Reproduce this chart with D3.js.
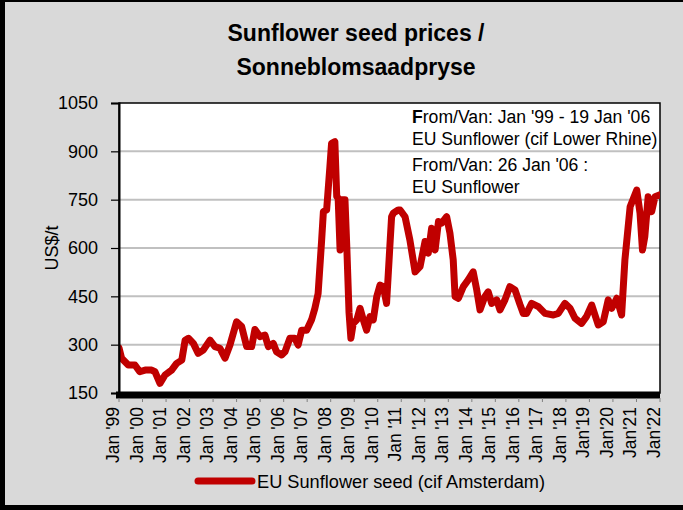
<!DOCTYPE html>
<html lang="en">
<head>
<meta charset="UTF-8">
<title>Sunflower seed prices</title>
<script src="https://d3js.org/d3.v7.min.js"></script>
<style>
  body { margin: 0; background: #d9d9d9; }
  svg { display: block; font-family: "Liberation Sans", Arial, sans-serif; }
</style>
</head>
<body>
<div id="chart"></div>
<script>
// price series, US$/t
const dates = [
  "1999-01-01","1999-02-10","1999-05-25","1999-09-05","1999-11-20",
  "2000-02-10","2000-05-22","2000-07-12","2000-09-28","2000-12-16",
  "2001-03-28","2001-06-14","2001-09-02","2001-10-24","2001-12-14",
  "2002-03-01","2002-05-15","2002-08-01","2002-11-14",
  "2003-01-30","2003-04-16","2003-07-05","2003-09-20",
  "2004-01-01","2004-03-20","2004-06-06","2004-08-22","2004-10-12","2004-12-28",
  "2005-03-16","2005-05-08","2005-07-23","2005-09-12","2005-12-01",
  "2006-01-22","2006-04-08","2006-06-24","2006-08-14","2006-10-08","2006-12-24",
  "2007-03-10","2007-05-01","2007-06-20","2007-08-14","2007-09-10","2007-10-30","2007-12-20",
  "2008-01-15","2008-03-06","2008-04-04","2008-04-26","2008-05-26","2008-06-20",
  "2008-08-10","2008-09-08","2008-10-12","2008-11-10","2008-12-16",
  "2009-02-10","2009-04-01","2009-05-22","2009-07-12","2009-09-02","2009-10-24","2009-12-16",
  "2010-02-06","2010-03-28","2010-05-18","2010-07-08","2010-08-04","2010-08-30","2010-11-14","2010-12-14",
  "2011-03-01","2011-05-15","2011-08-04","2011-10-20",
  "2012-01-05","2012-02-25","2012-04-16","2012-06-10","2012-08-01","2012-09-20","2012-12-06",
  "2013-01-26","2013-03-18","2013-04-16","2013-06-06","2013-08-22","2013-11-06",
  "2014-01-22","2014-03-18","2014-05-08","2014-07-22","2014-09-12","2014-11-06",
  "2015-01-22","2015-03-14","2015-05-30","2015-08-14","2015-11-02",
  "2016-01-18","2016-03-10","2016-05-01","2016-07-18","2016-10-30",
  "2017-02-10","2017-06-20","2017-09-05","2017-12-16",
  "2018-03-06","2018-05-22","2018-09-01","2018-11-16",
  "2019-02-06","2019-05-18","2019-08-04","2019-10-20","2019-12-14",
  "2020-03-01","2020-05-15","2020-07-05","2020-09-24",
  "2021-01-05","2021-02-25","2021-04-04","2021-05-10","2021-07-01","2021-08-25","2021-10-15",
  "2022-01-01"
];
const prices = [
  290, 258, 237, 237, 216,
  221, 221, 216, 180, 206,
  221, 242, 252, 314, 320,
  304, 273, 283, 314,
  294, 289, 258, 299,
  371, 356, 294, 294, 347, 325,
  330, 294, 304, 278, 268,
  278, 320, 320, 299, 345, 345,
  377, 413, 459, 625, 713, 718, 852,
  925, 930, 760, 755, 594, 750,
  750, 600, 400, 320, 366,
  377, 413, 377, 345, 387, 377, 449,
  485, 480, 428, 605, 697, 708, 718, 718,
  697, 625, 526, 542,
  620, 584, 661, 594, 682, 677, 697,
  646, 563, 449, 444, 480, 501,
  526, 470, 408, 449, 464, 428,
  439, 408, 439, 480, 470,
  425, 397, 397, 428, 418,
  397, 392, 397, 428,
  413, 382, 366, 387,
  423, 361, 371, 439, 413,
  444, 392, 563, 728,
  780, 708, 594, 635, 759, 713, 759,
  765
];

const yTicks = [150, 300, 450, 600, 750, 900, 1050];
const xTickYears = d3.range(1999, 2023);
const xTickLabels = [
  "Jan '99","Jan '00","Jan '01","Jan '02","Jan '03","Jan '04","Jan '05","Jan '06",
  "Jan '07","Jan '08","Jan '09","Jan '10","Jan '11","Jan '12","Jan '13","Jan '14",
  "Jan '15","Jan '16","Jan '17","Jan '18","Jan'19","Jan'20","Jan'21","Jan'22"
];
const titleLines = ["Sunflower seed prices /", "Sonneblomsaadpryse"];
const noteLines = [
  "From/Van: Jan '99 - 19 Jan '06",
  "EU Sunflower (cif Lower Rhine)",
  "From/Van: 26 Jan '06 :",
  "EU Sunflower"
];
const seriesName = "EU Sunflower seed (cif Amsterdam)";
const yTitle = "US$/t";

const width = 683, height = 510;
const plot = { left: 119, right: 660, top: 103, bottom: 393 };
const red = "#c00000";

const parse = d3.timeParse("%Y-%m-%d");
const data = dates.map((d, i) => ({ date: parse(d), price: prices[i] }));

const svg = d3.select("#chart").append("svg")
  .attr("width", width)
  .attr("height", height);

svg.append("rect")
  .attr("width", width).attr("height", height)
  .attr("fill", "#d9d9d9");

// outer frame (right edge is cut off in the original)
svg.append("line").attr("x1", 0).attr("x2", width).attr("y1", 1).attr("y2", 1)
  .attr("stroke", "#000").attr("stroke-width", 2);
svg.append("line").attr("x1", 2.5).attr("x2", 2.5).attr("y1", 0).attr("y2", height)
  .attr("stroke", "#000").attr("stroke-width", 5);
svg.append("line").attr("x1", 0).attr("x2", width).attr("y1", 507.5).attr("y2", 507.5)
  .attr("stroke", "#000").attr("stroke-width", 5);

const x = d3.scaleTime()
  .domain([new Date(1999, 0, 1), new Date(2022, 0, 1)])
  .range([plot.left, plot.right]);
const y = d3.scaleLinear()
  .domain([150, 1050])
  .range([plot.bottom, plot.top]);

// plot background
svg.append("rect")
  .attr("x", plot.left).attr("y", plot.top)
  .attr("width", plot.right - plot.left).attr("height", plot.bottom - plot.top)
  .attr("fill", "#fff");

// gridlines
svg.append("g").selectAll("line")
  .data(yTicks.filter(v => v > 150 && v < 1050))
  .join("line")
  .attr("x1", plot.left).attr("x2", plot.right)
  .attr("y1", d => y(d)).attr("y2", d => y(d))
  .attr("stroke", "#c0c0c0").attr("stroke-width", 2);

// note text
const note = svg.append("g").attr("font-size", 17.6).attr("fill", "#000");
const noteY = [123, 145, 171, 193];
noteLines.forEach((t, i) => {
  const txt = note.append("text").attr("x", 412).attr("y", noteY[i]);
  if (i === 0) {
    txt.append("tspan").attr("font-weight", "bold").text(t[0]);
    txt.append("tspan").text(t.slice(1));
  } else {
    txt.text(t);
  }
});

// plot border
svg.append("rect")
  .attr("x", plot.left).attr("y", plot.top)
  .attr("width", plot.right - plot.left).attr("height", plot.bottom - plot.top)
  .attr("fill", "none").attr("stroke", "#000").attr("stroke-width", 1.5);

// series
svg.append("clipPath").attr("id", "clip")
  .append("rect")
  .attr("x", plot.left).attr("y", plot.top - 10)
  .attr("width", plot.right - plot.left).attr("height", plot.bottom - plot.top + 10);

const line = d3.line()
  .x(d => x(d.date))
  .y(d => y(d.price));

svg.append("path")
  .datum(data)
  .attr("clip-path", "url(#clip)")
  .attr("fill", "none")
  .attr("stroke", red)
  .attr("stroke-width", 7)
  .attr("stroke-linejoin", "round")
  .attr("stroke-linecap", "round")
  .attr("d", line);

// y axis
const yAxis = svg.append("g")
  .attr("transform", `translate(${plot.left},0)`)
  .call(d3.axisLeft(y).tickValues(yTicks).tickFormat(d3.format("d"))
    .tickSize(8).tickPadding(13));
yAxis.select(".domain").attr("stroke", "#000").attr("stroke-width", 2);
yAxis.selectAll(".tick line").attr("stroke", "#000").attr("stroke-width", 1.2);
yAxis.selectAll(".tick text")
  .attr("font-size", 18).attr("fill", "#000")
  .attr("font-family", "\"Liberation Sans\", Arial, sans-serif");

// x axis: heavy base line, small ticks, rotated labels
svg.append("line")
  .attr("x1", plot.left - 3).attr("x2", plot.right)
  .attr("y1", 395).attr("y2", 395)
  .attr("stroke", "#000").attr("stroke-width", 7);

const xg = svg.append("g");
xg.selectAll("line")
  .data(xTickYears)
  .join("line")
  .attr("x1", d => x(new Date(d, 0, 1))).attr("x2", d => x(new Date(d, 0, 1)))
  .attr("y1", 398).attr("y2", 402)
  .attr("stroke", "#808080").attr("stroke-width", 1);
xg.selectAll("text")
  .data(xTickYears)
  .join("text")
  .attr("transform", d => `translate(${x(new Date(d, 0, 1))},407) rotate(-90)`)
  .attr("text-anchor", "end")
  .attr("font-size", 17.5)
  .attr("fill", "#000")
  .text((d, i) => xTickLabels[i]);

// y title
svg.append("text")
  .attr("transform", "translate(58,248) rotate(-90)")
  .attr("text-anchor", "middle")
  .attr("font-size", 18)
  .text(yTitle);

// title
svg.append("g").selectAll("text")
  .data(titleLines)
  .join("text")
  .attr("x", 356)
  .attr("y", (d, i) => 41 + i * 34)
  .attr("text-anchor", "middle")
  .attr("font-size", 23)
  .attr("font-weight", "bold")
  .text(d => d);

// legend
svg.append("line")
  .attr("x1", 198).attr("x2", 252)
  .attr("y1", 481).attr("y2", 481)
  .attr("stroke", red).attr("stroke-width", 7)
  .attr("stroke-linecap", "round");
svg.append("text")
  .attr("x", 257).attr("y", 488)
  .attr("font-size", 18.2)
  .text(seriesName);
</script>
</body>
</html>
